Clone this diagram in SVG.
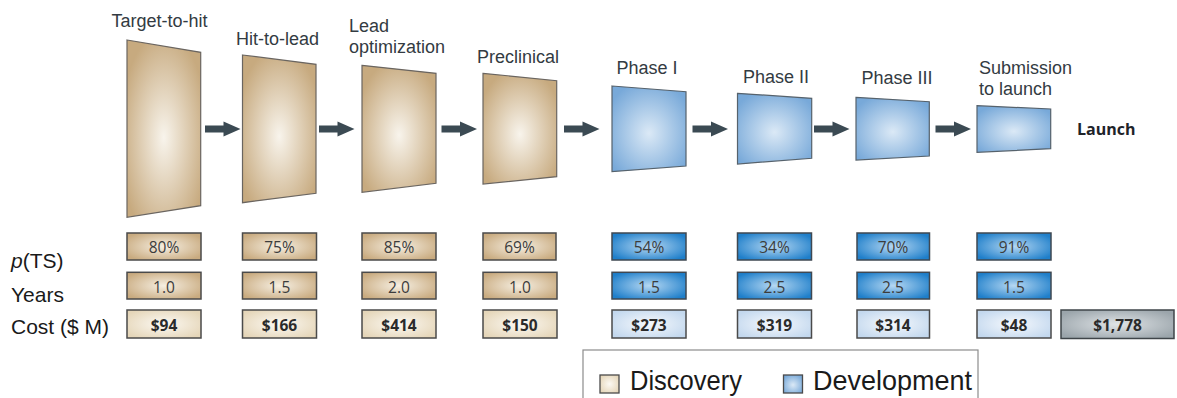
<svg xmlns="http://www.w3.org/2000/svg" width="1177" height="398" viewBox="0 0 1177 398">
  <style>
    .stage { font-family: "Liberation Sans", Arial, sans-serif; font-size: 18px; fill: #333b42; }
    .launch { font-family: "Open Sans", "Liberation Sans", sans-serif; font-size: 16px; font-weight: bold; fill: #1e2329; }
    .rowlab { font-family: "Liberation Sans", Arial, sans-serif; font-size: 21px; fill: #1a1a1a; }
    .val { font-family: "Open Sans", "Liberation Sans", sans-serif; font-size: 15.5px; fill: #3c3c3c; text-anchor: middle; }
    .cost { font-family: "Open Sans", "Liberation Sans", sans-serif; font-size: 15.5px; font-weight: bold; fill: #2b2b2b; text-anchor: middle; }
    .legtxt { font-family: "Liberation Sans", Arial, sans-serif; font-size: 28px; fill: #1a1a1a; }
    .trapD { fill: url(#gTrapD); stroke: #6a6560; stroke-width: 1.2; }
    .trapV { fill: url(#gTrapV); stroke: #56626c; stroke-width: 1.2; }
    .boxD { fill: url(#gBoxD); stroke: #4a4a4a; stroke-width: 1.5; }
    .boxV { fill: url(#gBoxV); stroke: #3f4852; stroke-width: 1.5; }
    .costD { fill: url(#gCostD); stroke: #4a4a4a; stroke-width: 1.5; }
    .costV { fill: url(#gCostV); stroke: #4a4a4a; stroke-width: 1.5; }
    .costT { fill: url(#gCostT); stroke: #3f4549; stroke-width: 1.5; }
    .arrow { fill: #3b4a53; }
  </style>
  <defs>
    <radialGradient id="gTrapD" cx="0.5" cy="0.55" r="0.6">
      <stop offset="0" stop-color="#f8f4ec"/>
      <stop offset="1" stop-color="#c7aa7f"/>
    </radialGradient>
    <radialGradient id="gTrapV" cx="0.5" cy="0.55" r="0.62">
      <stop offset="0" stop-color="#dbe9f6"/>
      <stop offset="1" stop-color="#78a9d9"/>
    </radialGradient>
    <radialGradient id="gBoxD" cx="0.5" cy="0.5" r="0.6">
      <stop offset="0" stop-color="#f6efe2"/>
      <stop offset="1" stop-color="#c9ab80"/>
    </radialGradient>
    <radialGradient id="gBoxV" cx="0.5" cy="0.5" r="0.6">
      <stop offset="0" stop-color="#b6d8f3"/>
      <stop offset="1" stop-color="#1f7fca"/>
    </radialGradient>
    <radialGradient id="gCostD" cx="0.5" cy="0.5" r="0.6">
      <stop offset="0" stop-color="#fcf9f3"/>
      <stop offset="1" stop-color="#e5d6b9"/>
    </radialGradient>
    <radialGradient id="gCostV" cx="0.5" cy="0.5" r="0.6">
      <stop offset="0" stop-color="#f6f9fd"/>
      <stop offset="1" stop-color="#c3d8ee"/>
    </radialGradient>
    <radialGradient id="gCostT" cx="0.5" cy="0.5" r="0.6">
      <stop offset="0" stop-color="#e0e4e7"/>
      <stop offset="1" stop-color="#9ba5ab"/>
    </radialGradient>
  </defs>

  <!-- stage panels with titles -->
  <g id="target-to-hit">
    <polygon class="trapD" points="127,40 200.7,52.3 200.7,205.7 127,217.3"/>
    <text class="stage" x="111.5" y="27">Target-to-hit</text>
  </g>
  <g id="hit-to-lead">
    <polygon class="trapD" points="242.5,55 316,64.3 316,193.3 242.5,202.7"/>
    <text class="stage" x="236" y="45">Hit-to-lead</text>
  </g>
  <g id="lead-optimization">
    <polygon class="trapD" points="362,65.3 436,73.3 436,183.3 362,192.3"/>
    <text class="stage" x="349" y="32">Lead</text>
    <text class="stage" x="349" y="53.3">optimization</text>
  </g>
  <g id="preclinical">
    <polygon class="trapD" points="483,73.3 556.7,80.7 556.7,176.7 483,184"/>
    <text class="stage" x="477" y="63">Preclinical</text>
  </g>
  <g id="phase-1">
    <polygon class="trapV" points="612,86 686,91.7 686,166 612,171.7"/>
    <text class="stage" x="616.5" y="74.3">Phase I</text>
  </g>
  <g id="phase-2">
    <polygon class="trapV" points="737.5,93.3 811.7,98.3 811.7,158.3 737.5,164"/>
    <text class="stage" x="743" y="83.3">Phase II</text>
  </g>
  <g id="phase-3">
    <polygon class="trapV" points="856,97.3 929.3,101.7 929.3,156 856,160"/>
    <text class="stage" x="861.5" y="84">Phase III</text>
  </g>
  <g id="submission">
    <polygon class="trapV" points="977,105.7 1050.7,109 1050.7,148.7 977,152.3"/>
    <text class="stage" x="979" y="74">Submission</text>
    <text class="stage" x="979" y="95">to launch</text>
  </g>
  <g id="launch">
    <text class="launch" x="1077" y="135">Launch</text>
  </g>

  <!-- arrows between stages -->
  <g id="connectors">
    <path class="arrow" d="M205,125.5 h18.5 v-4 l17,7.5 l-17,7.5 v-4 h-18.5 z"/>
    <path class="arrow" d="M319,125.5 h18.5 v-4 l17,7.5 l-17,7.5 v-4 h-18.5 z"/>
    <path class="arrow" d="M441.5,125.5 h18.5 v-4 l17,7.5 l-17,7.5 v-4 h-18.5 z"/>
    <path class="arrow" d="M564,125.5 h18.5 v-4 l17,7.5 l-17,7.5 v-4 h-18.5 z"/>
    <path class="arrow" d="M692.5,125.5 h18.5 v-4 l17,7.5 l-17,7.5 v-4 h-18.5 z"/>
    <path class="arrow" d="M814,125.5 h18.5 v-4 l17,7.5 l-17,7.5 v-4 h-18.5 z"/>
    <path class="arrow" d="M935.5,125.5 h18.5 v-4 l17,7.5 l-17,7.5 v-4 h-18.5 z"/>
  </g>

  <!-- row labels -->
  <g id="row-labels">
    <text class="rowlab" x="11" y="268"><tspan font-style="italic">p</tspan>(TS)</text>
    <text class="rowlab" x="11" y="302">Years</text>
    <text class="rowlab" x="11" y="334">Cost ($ M)</text>
  </g>

  <!-- metric table -->
  <g id="table-discovery">
    <rect class="boxD" x="127" y="233" width="74" height="27"/>
    <rect class="boxD" x="242.5" y="233" width="74" height="27"/>
    <rect class="boxD" x="362" y="233" width="74" height="27"/>
    <rect class="boxD" x="483" y="233" width="73" height="27"/>
    <rect class="boxD" x="127" y="272.3" width="74" height="26.7"/>
    <rect class="boxD" x="242.5" y="272.3" width="74" height="26.7"/>
    <rect class="boxD" x="362" y="272.3" width="74" height="26.7"/>
    <rect class="boxD" x="483" y="272.3" width="74" height="26.7"/>
    <rect class="costD" x="127" y="310" width="74" height="28"/>
    <rect class="costD" x="242.5" y="310" width="74" height="28"/>
    <rect class="costD" x="362" y="310" width="74" height="28"/>
    <rect class="costD" x="483" y="310" width="74" height="28"/>
    <text class="val" x="164" y="253">80%</text>
    <text class="val" x="279.5" y="253">75%</text>
    <text class="val" x="399" y="253">85%</text>
    <text class="val" x="519.5" y="253">69%</text>
    <text class="val" x="164" y="292.5">1.0</text>
    <text class="val" x="279.5" y="292.5">1.5</text>
    <text class="val" x="399" y="292.5">2.0</text>
    <text class="val" x="520" y="292.5">1.0</text>
    <text class="cost" x="164" y="330.5">$94</text>
    <text class="cost" x="279.5" y="330.5">$166</text>
    <text class="cost" x="399" y="330.5">$414</text>
    <text class="cost" x="520" y="330.5">$150</text>
  </g>
  <g id="table-development">
    <rect class="boxV" x="612" y="233" width="74" height="27"/>
    <rect class="boxV" x="737.5" y="233" width="74" height="27"/>
    <rect class="boxV" x="857" y="233" width="72.5" height="27"/>
    <rect class="boxV" x="977" y="233" width="74" height="27"/>
    <rect class="boxV" x="612" y="272.3" width="74" height="26.7"/>
    <rect class="boxV" x="737.5" y="272.3" width="74" height="26.7"/>
    <rect class="boxV" x="857" y="272.3" width="72.5" height="26.7"/>
    <rect class="boxV" x="977" y="272.3" width="74" height="26.7"/>
    <rect class="costV" x="612" y="310" width="74" height="28"/>
    <rect class="costV" x="737.5" y="310" width="74" height="28"/>
    <rect class="costV" x="857" y="310" width="72.5" height="28"/>
    <rect class="costV" x="977" y="310" width="74" height="28"/>
    <text class="val" x="649" y="253">54%</text>
    <text class="val" x="774.5" y="253">34%</text>
    <text class="val" x="893" y="253">70%</text>
    <text class="val" x="1014" y="253">91%</text>
    <text class="val" x="649" y="292.5">1.5</text>
    <text class="val" x="774.5" y="292.5">2.5</text>
    <text class="val" x="893" y="292.5">2.5</text>
    <text class="val" x="1014" y="292.5">1.5</text>
    <text class="cost" x="649" y="330.5">$273</text>
    <text class="cost" x="774.5" y="330.5">$319</text>
    <text class="cost" x="893" y="330.5">$314</text>
    <text class="cost" x="1014" y="330.5">$48</text>
  </g>
  <g id="total-cost">
    <rect class="costT" x="1061" y="310" width="113" height="28.5"/>
    <text class="cost" x="1117.5" y="330.5">$1,778</text>
  </g>

  <!-- legend -->
  <g id="legend">
    <rect x="583" y="350" width="395" height="60" fill="#ffffff" stroke="#8c8c8c" stroke-width="1.2"/>
    <rect x="600" y="375" width="19" height="18" fill="url(#gCostD)" stroke="#4a4a4a" stroke-width="1.3"/>
    <text class="legtxt" x="630" y="390" textLength="112" lengthAdjust="spacingAndGlyphs">Discovery</text>
    <rect x="783.5" y="375" width="19" height="18" fill="url(#gTrapV)" stroke="#4a4a4a" stroke-width="1.3"/>
    <text class="legtxt" x="813" y="390" textLength="159" lengthAdjust="spacingAndGlyphs">Development</text>
  </g>
</svg>
